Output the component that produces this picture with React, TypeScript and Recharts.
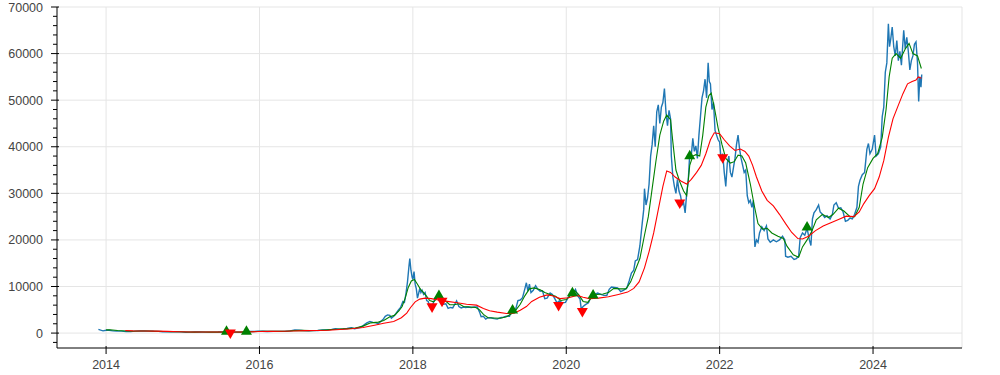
import { ComposedChart, Line, Scatter, XAxis, YAxis, CartesianGrid, ReferenceLine } from "recharts";

// BTC close (EUR), [year, value]
const close: [number, number][] = [
  [2013.90, 790], [2013.93, 620], [2013.96, 480], [2014.00, 600], [2014.04, 620], [2014.09, 480], [2014.14, 440],
  [2014.20, 430], [2014.26, 330], [2014.32, 320], [2014.38, 420], [2014.44, 470], [2014.50, 460], [2014.56, 430],
  [2014.62, 380], [2014.68, 360], [2014.74, 300], [2014.80, 280], [2014.86, 300], [2014.92, 290], [2014.98, 260],
  [2015.04, 190], [2015.10, 200], [2015.16, 240], [2015.22, 220], [2015.30, 210], [2015.38, 210], [2015.46, 220],
  [2015.52, 250], [2015.58, 260], [2015.64, 210], [2015.70, 210], [2015.76, 210], [2015.82, 280], [2015.86, 330],
  [2015.92, 340], [2015.98, 390], [2016.04, 390], [2016.10, 350], [2016.18, 370], [2016.26, 370], [2016.34, 400],
  [2016.40, 480], [2016.46, 650], [2016.52, 600], [2016.58, 520], [2016.64, 510], [2016.70, 540], [2016.76, 560],
  [2016.82, 650], [2016.88, 700], [2016.94, 800], [2016.99, 920], [2017.04, 850], [2017.09, 900], [2017.14, 1000],
  [2017.20, 1150], [2017.24, 950], [2017.28, 1100], [2017.32, 1250], [2017.36, 1700], [2017.40, 2200], [2017.44, 2500],
  [2017.48, 2300], [2017.52, 2200], [2017.55, 2000], [2017.58, 2500], [2017.61, 2900], [2017.64, 3600], [2017.67, 3900],
  [2017.70, 3800], [2017.72, 3200], [2017.75, 3600], [2017.78, 4200], [2017.81, 4900], [2017.84, 5500], [2017.87, 6800],
  [2017.89, 6600], [2017.91, 8500], [2017.93, 11000], [2017.95, 14500], [2017.96, 16000], [2017.975, 13500],
  [2017.99, 12000], [2018.00, 11500], [2018.015, 13200], [2018.03, 10500], [2018.045, 9500], [2018.06, 7500],
  [2018.075, 8500], [2018.09, 9600], [2018.105, 8700], [2018.12, 9200], [2018.14, 8300], [2018.16, 8700],
  [2018.18, 7000], [2018.20, 6800], [2018.22, 5600], [2018.24, 5400], [2018.26, 6200], [2018.29, 7500], [2018.31, 7600],
  [2018.34, 8000], [2018.37, 7000], [2018.40, 6200], [2018.43, 6300], [2018.46, 5300], [2018.49, 5500], [2018.52, 5400],
  [2018.55, 6300], [2018.57, 6900], [2018.60, 5700], [2018.63, 5400], [2018.66, 5600], [2018.69, 5500], [2018.72, 5600],
  [2018.76, 5500], [2018.80, 5600], [2018.84, 5600], [2018.87, 4500], [2018.89, 3500], [2018.92, 3600], [2018.95, 3000],
  [2018.98, 3300], [2019.02, 3300], [2019.06, 3100], [2019.10, 3000], [2019.14, 3300], [2019.18, 3400], [2019.22, 3600],
  [2019.26, 3600], [2019.28, 4500], [2019.31, 4600], [2019.34, 5100], [2019.37, 7000], [2019.40, 7100], [2019.43, 7600],
  [2019.46, 9500], [2019.48, 10800], [2019.50, 9000], [2019.52, 10500], [2019.54, 8700], [2019.57, 9200], [2019.60, 10200],
  [2019.63, 9400], [2019.66, 9000], [2019.69, 9100], [2019.72, 7400], [2019.75, 7500], [2019.79, 8600], [2019.82, 8300],
  [2019.85, 7400], [2019.88, 6500], [2019.91, 6900], [2019.95, 6500], [2019.99, 6600], [2020.02, 7500], [2020.06, 8400],
  [2020.09, 8600], [2020.12, 9400], [2020.15, 8000], [2020.18, 7300], [2020.195, 5200], [2020.22, 5700], [2020.25, 6100],
  [2020.29, 6500], [2020.33, 8200], [2020.37, 8300], [2020.41, 8600], [2020.45, 8300], [2020.49, 8100], [2020.53, 8100],
  [2020.56, 9400], [2020.59, 9900], [2020.63, 9800], [2020.67, 9700], [2020.71, 8900], [2020.75, 9200], [2020.79, 9700],
  [2020.82, 11200], [2020.85, 12900], [2020.88, 13500], [2020.90, 15500], [2020.93, 15800], [2020.96, 18700],
  [2020.99, 23500], [2021.01, 26500], [2021.02, 31000], [2021.04, 27500], [2021.06, 29000], [2021.08, 32000],
  [2021.10, 38000], [2021.12, 40500], [2021.14, 44500], [2021.16, 40000], [2021.18, 47500], [2021.20, 49000],
  [2021.22, 45000], [2021.24, 48500], [2021.26, 49500], [2021.28, 52500], [2021.30, 47500], [2021.32, 44500],
  [2021.34, 47800], [2021.36, 46000], [2021.37, 38000], [2021.39, 33500], [2021.41, 31500], [2021.43, 30000],
  [2021.45, 33000], [2021.47, 30500], [2021.49, 29500], [2021.51, 27500], [2021.53, 28000], [2021.55, 25800],
  [2021.57, 30000], [2021.59, 32500], [2021.61, 38500], [2021.63, 38000], [2021.65, 41800], [2021.67, 39000],
  [2021.69, 40200], [2021.71, 37500], [2021.73, 42500], [2021.75, 46500], [2021.77, 50500], [2021.79, 52000],
  [2021.81, 54500], [2021.83, 50500], [2021.85, 58000], [2021.865, 54000], [2021.88, 53500], [2021.90, 48000],
  [2021.92, 49500], [2021.94, 43500], [2021.96, 42500], [2021.98, 41500], [2022.00, 41000], [2022.02, 37000],
  [2022.04, 38500], [2022.06, 34500], [2022.08, 31500], [2022.10, 36500], [2022.12, 38000], [2022.14, 34500],
  [2022.16, 33500], [2022.18, 35500], [2022.20, 37500], [2022.22, 40500], [2022.24, 42500], [2022.26, 39500],
  [2022.28, 37500], [2022.30, 36000], [2022.32, 34500], [2022.34, 35000], [2022.36, 29500], [2022.38, 28000],
  [2022.40, 28500], [2022.42, 27000], [2022.44, 28500], [2022.45, 22000], [2022.46, 18500], [2022.48, 20000],
  [2022.50, 19500], [2022.52, 21500], [2022.55, 22800], [2022.58, 22000], [2022.61, 23000], [2022.63, 20200],
  [2022.66, 19500], [2022.70, 20000], [2022.74, 19600], [2022.78, 20000], [2022.82, 20800], [2022.85, 20000],
  [2022.86, 16500], [2022.89, 16300], [2022.93, 16500], [2022.97, 15800], [2023.00, 16000], [2023.03, 16500],
  [2023.05, 20500], [2023.08, 21500], [2023.11, 21000], [2023.14, 22500], [2023.17, 20000], [2023.19, 18800],
  [2023.21, 24500], [2023.23, 25800], [2023.26, 26500], [2023.29, 27500], [2023.31, 26000], [2023.34, 25500],
  [2023.37, 24800], [2023.40, 25200], [2023.44, 24500], [2023.47, 25500], [2023.49, 27500], [2023.52, 28000],
  [2023.55, 26800], [2023.58, 26900], [2023.61, 26000], [2023.64, 24000], [2023.67, 24200], [2023.70, 24700],
  [2023.73, 24500], [2023.76, 25500], [2023.79, 27000], [2023.81, 31500], [2023.83, 32800], [2023.86, 34000],
  [2023.89, 34500], [2023.92, 39500], [2023.94, 40700], [2023.96, 38500], [2023.99, 39500], [2024.02, 42500],
  [2024.04, 38000], [2024.07, 38500], [2024.10, 40000], [2024.12, 46500], [2024.14, 48500], [2024.16, 56000],
  [2024.18, 58000], [2024.20, 66400], [2024.215, 61500], [2024.23, 63000], [2024.25, 65700], [2024.27, 61500],
  [2024.29, 59500], [2024.31, 62800], [2024.33, 58500], [2024.35, 60500], [2024.37, 57500], [2024.39, 62500],
  [2024.40, 65000], [2024.42, 61000], [2024.44, 63500], [2024.46, 60500], [2024.48, 56500], [2024.50, 58500],
  [2024.52, 59500], [2024.54, 62000], [2024.56, 62500], [2024.58, 58000], [2024.595, 49700], [2024.61, 55000],
  [2024.625, 52800], [2024.635, 55500],
];

// short moving average
const maShort: [number, number][] = [
  [2014.00, 700], [2014.05, 720], [2014.15, 560], [2014.25, 460], [2014.35, 380], [2014.45, 440], [2014.55, 450],
  [2014.65, 410], [2014.75, 330], [2014.85, 290], [2014.95, 280], [2015.05, 220], [2015.15, 210], [2015.25, 225],
  [2015.35, 215], [2015.45, 215], [2015.55, 245], [2015.65, 230], [2015.75, 215], [2015.85, 280], [2015.95, 350],
  [2016.05, 380], [2016.15, 365], [2016.25, 370], [2016.35, 390], [2016.45, 520], [2016.55, 590], [2016.65, 530],
  [2016.75, 550], [2016.85, 640], [2016.95, 760], [2017.05, 880], [2017.15, 960], [2017.25, 1080], [2017.35, 1500],
  [2017.45, 2200], [2017.55, 2350], [2017.62, 2700], [2017.70, 3500], [2017.76, 3800], [2017.82, 4800], [2017.86, 5700],
  [2017.90, 7500], [2017.94, 9800], [2017.98, 11200], [2018.02, 11500], [2018.06, 10500], [2018.10, 9400],
  [2018.14, 8700], [2018.18, 7900], [2018.22, 7000], [2018.27, 6700], [2018.32, 7500], [2018.36, 7800], [2018.42, 7000],
  [2018.48, 6100], [2018.54, 6100], [2018.60, 6300], [2018.66, 5700], [2018.74, 5600], [2018.82, 5500], [2018.87, 5000],
  [2018.92, 4000], [2018.98, 3300], [2019.05, 3250], [2019.14, 3200], [2019.22, 3500], [2019.29, 4200], [2019.34, 4900],
  [2019.40, 6200], [2019.46, 8000], [2019.52, 9500], [2019.58, 9700], [2019.66, 9300], [2019.72, 8700], [2019.79, 8300],
  [2019.86, 7900], [2019.93, 7000], [2020.00, 7200], [2020.06, 8200], [2020.11, 9100], [2020.16, 8300], [2020.22, 6800],
  [2020.28, 6600], [2020.34, 7800], [2020.40, 8300], [2020.48, 8400], [2020.55, 8700], [2020.62, 9600], [2020.70, 9500],
  [2020.78, 9500], [2020.84, 11000], [2020.90, 13500], [2020.96, 16000], [2021.02, 21000], [2021.07, 25000],
  [2021.12, 31000], [2021.17, 37000], [2021.22, 42500], [2021.27, 45500], [2021.31, 46800], [2021.36, 45800],
  [2021.39, 41000], [2021.43, 35000], [2021.48, 32500], [2021.53, 30500], [2021.57, 29500], [2021.61, 36000],
  [2021.65, 38000], [2021.69, 38300], [2021.74, 38000], [2021.78, 42500], [2021.82, 48500], [2021.86, 51000],
  [2021.89, 51500], [2021.93, 48500], [2021.98, 44000], [2022.03, 40500], [2022.08, 37500], [2022.14, 36500],
  [2022.19, 36800], [2022.24, 38200], [2022.29, 38000], [2022.34, 36500], [2022.40, 32000], [2022.45, 27500],
  [2022.50, 23500], [2022.56, 22300], [2022.62, 22500], [2022.68, 21500], [2022.76, 20800], [2022.83, 20300],
  [2022.88, 18600], [2022.96, 16800], [2023.03, 16300], [2023.08, 18500], [2023.14, 20000], [2023.20, 21800],
  [2023.26, 24300], [2023.34, 25500], [2023.42, 24800], [2023.48, 25500], [2023.55, 26800], [2023.62, 26200],
  [2023.70, 25000], [2023.76, 25000], [2023.82, 27000], [2023.87, 32000], [2023.93, 35500], [2024.00, 37500],
  [2024.06, 38500], [2024.12, 42000], [2024.17, 48000], [2024.21, 55000], [2024.25, 59000], [2024.30, 60000],
  [2024.36, 59000], [2024.42, 61000], [2024.47, 62200], [2024.52, 60000], [2024.58, 59500], [2024.63, 56800],
];

// long moving average
const maLong: [number, number][] = [
  [2014.25, 560], [2014.35, 480], [2014.50, 450], [2014.65, 430], [2014.80, 360], [2014.95, 300], [2015.10, 240],
  [2015.25, 225], [2015.40, 220], [2015.55, 230], [2015.70, 225], [2015.85, 250], [2016.00, 330], [2016.15, 370],
  [2016.30, 380], [2016.45, 440], [2016.60, 540], [2016.75, 550], [2016.90, 620], [2017.05, 780], [2017.20, 920],
  [2017.35, 1200], [2017.50, 1700], [2017.62, 2100], [2017.75, 2500], [2017.85, 3300], [2017.92, 4300], [2017.97, 5500],
  [2018.03, 6700], [2018.09, 7300], [2018.16, 7500], [2018.24, 7400], [2018.33, 7100], [2018.45, 6800], [2018.58, 6500],
  [2018.70, 6200], [2018.83, 6000], [2018.92, 5300], [2019.00, 4800], [2019.10, 4500], [2019.22, 4200], [2019.32, 4250],
  [2019.40, 4900], [2019.48, 5700], [2019.55, 6800], [2019.65, 7700], [2019.75, 8200], [2019.82, 8000], [2019.92, 7400],
  [2020.03, 7600], [2020.14, 8100], [2020.22, 7700], [2020.30, 7400], [2020.42, 7500], [2020.55, 7800], [2020.68, 8300],
  [2020.80, 8800], [2020.88, 9600], [2020.95, 11000], [2021.02, 14000], [2021.08, 17500], [2021.14, 21500],
  [2021.20, 26500], [2021.26, 31500], [2021.31, 34800], [2021.36, 34500], [2021.42, 33500], [2021.50, 32600],
  [2021.57, 32000], [2021.63, 33000], [2021.70, 34500], [2021.76, 36000], [2021.82, 38500], [2021.88, 41500],
  [2021.93, 43000], [2022.00, 42800], [2022.06, 41500], [2022.13, 40200], [2022.20, 39200], [2022.27, 39500],
  [2022.33, 39000], [2022.38, 38000], [2022.43, 36000], [2022.48, 33500], [2022.55, 30500], [2022.62, 28500],
  [2022.70, 27300], [2022.78, 25500], [2022.86, 23500], [2022.94, 21600], [2023.02, 20300], [2023.08, 20200],
  [2023.16, 20800], [2023.25, 22000], [2023.35, 23000], [2023.45, 23700], [2023.55, 24400], [2023.65, 25100],
  [2023.75, 25000], [2023.82, 26000], [2023.88, 27800], [2023.95, 29500], [2024.02, 31000], [2024.08, 33500],
  [2024.14, 37000], [2024.20, 42000], [2024.26, 46000], [2024.32, 48500], [2024.39, 51400], [2024.45, 53500],
  [2024.51, 54000], [2024.56, 54300], [2024.59, 55000], [2024.63, 54700],
];

const buySignals: [number, number][] = [
  [2015.57, 300], [2015.83, 300], [2018.34, 8000], [2019.30, 4900], [2020.08, 8600], [2020.35, 8100],
  [2021.61, 38000], [2023.14, 22700],
];

const sellSignals: [number, number][] = [
  [2015.62, 80], [2018.25, 5700], [2018.38, 6900], [2019.90, 6000], [2020.21, 4700], [2021.48, 28000],
  [2022.04, 37700],
];

const yearTicks = [2014, 2016, 2018, 2020, 2022, 2024];
const yearGrid = [2014, 2016, 2018, 2020, 2022, 2024];
const priceGrid = [0, 10000, 20000, 30000, 40000, 50000, 60000, 70000];
const priceTicks = [-2000, 0, 2000, 4000, 6000, 8000, 10000, 12000, 14000, 16000, 18000, 20000, 22000, 24000, 26000,
  28000, 30000, 32000, 34000, 36000, 38000, 40000, 42000, 44000, 46000, 48000, 50000, 52000, 54000, 56000, 58000,
  60000, 62000, 64000, 66000, 68000, 70000];

const X_DOMAIN: [number, number] = [2013.36, 2025.16];
const Y_DOMAIN: [number, number] = [-3200, 70000];

const toRows = (s: [number, number][]) => s.map(([t, v]) => ({ t, v }));

const FONT = "'Liberation Sans', Arial, Helvetica, sans-serif";
const TICK_SIZE = 6;
const Y_MARGIN = 8;
const X_MARGIN = 6;

function YTick(props: any) {
  const { x, y, payload } = props;
  const axisX = x + TICK_SIZE + Y_MARGIN;
  const major = payload.value % 10000 === 0;
  return (
    <g>
      <line x1={axisX - (major ? 6 : 4)} x2={axisX + (major ? 2 : 0)} y1={y} y2={y} stroke="#000" />
      {major && (
        <text x={x} y={y} dy="0.36em" textAnchor="end" fill="#444" fontSize={12.5} fontFamily={FONT}>
          {payload.value}
        </text>
      )}
    </g>
  );
}

function XTick(props: any) {
  const { x, y, payload } = props;
  const axisY = y - TICK_SIZE - X_MARGIN;
  return (
    <g>
      <line x1={x} x2={x} y1={axisY - 2} y2={axisY + 6} stroke="#000" />
      <text x={x} y={y} dy="0.71em" textAnchor="middle" fill="#444" fontSize={12.5} fontFamily={FONT}>
        {payload.value}
      </text>
    </g>
  );
}

function UpTriangle(props: any) {
  const { cx, cy } = props;
  const r = 5.5;
  const h = r * Math.sqrt(3);
  const a = h / 3;
  return <polygon points={`${cx - r},${cy + a} ${cx + r},${cy + a} ${cx},${cy + a - h}`} fill="green" />;
}

function DownTriangle(props: any) {
  const { cx, cy } = props;
  const r = 5.5;
  const h = r * Math.sqrt(3);
  const a = h / 3;
  return <polygon points={`${cx - r},${cy - a} ${cx + r},${cy - a} ${cx},${cy - a + h}`} fill="red" />;
}

export default function App() {
  return (
    <div style={{ position: "absolute", left: 0, top: 0, width: 1000, height: 375, background: "#fff" }}>
      <ComposedChart width={1000} height={375} margin={{ top: 7, right: 38, bottom: 0, left: 0 }}>
        <CartesianGrid stroke="#e5e5e5" horizontalValues={priceGrid} verticalValues={yearGrid} />
        <ReferenceLine x={X_DOMAIN[1]} stroke="#e5e5e5" />
        <XAxis
          type="number"
          dataKey="t"
          domain={X_DOMAIN}
          allowDataOverflow
          ticks={yearTicks}
          height={27}
          tickSize={TICK_SIZE}
          tickMargin={X_MARGIN}
          tickLine={false}
          axisLine={{ stroke: "#000" }}
          tick={<XTick />}
        />
        <YAxis
          type="number"
          domain={Y_DOMAIN}
          allowDataOverflow
          ticks={priceTicks}
          interval={0}
          width={57}
          tickSize={TICK_SIZE}
          tickMargin={Y_MARGIN}
          tickLine={false}
          axisLine={{ stroke: "#000" }}
          tick={<YTick />}
        />
        <Line data={toRows(close)} dataKey="v" stroke="#1f77b4" strokeWidth={1.4} dot={false} isAnimationActive={false} />
        <Line data={toRows(maShort)} dataKey="v" stroke="green" strokeWidth={1.1} dot={false} isAnimationActive={false} />
        <Line data={toRows(maLong)} dataKey="v" stroke="red" strokeWidth={1.1} dot={false} isAnimationActive={false} />
        <Scatter data={toRows(buySignals)} dataKey="v" shape={<UpTriangle />} isAnimationActive={false} />
        <Scatter data={toRows(sellSignals)} dataKey="v" shape={<DownTriangle />} isAnimationActive={false} />
      </ComposedChart>
    </div>
  );
}
